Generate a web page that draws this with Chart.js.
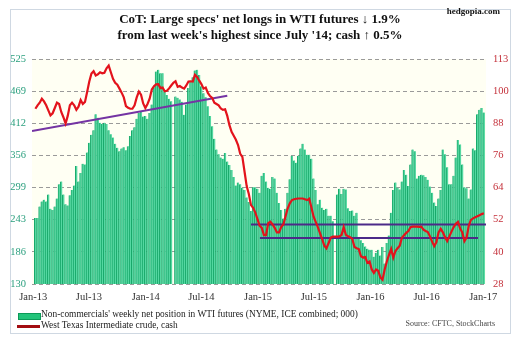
<!DOCTYPE html>
<html><head><meta charset="utf-8">
<script src="https://cdn.jsdelivr.net/npm/chart.js@4.4.1/dist/chart.umd.min.js"></script>
<style>
html,body{margin:0;padding:0;background:#fff;}
#wrap{position:relative;width:520px;height:342px;overflow:hidden;font-family:"Liberation Serif","DejaVu Serif",serif;}
#frame{position:absolute;left:10px;top:9px;width:499px;height:323px;border:1px solid #cfd8e2;}
canvas{position:absolute;left:0;top:0;}
.t{position:absolute;white-space:nowrap;color:#111;}
</style></head><body>
<div id="wrap">
<div id="frame"></div>
<canvas id="c" width="520" height="342"></canvas>
<div class="t" style="left:0;width:520px;top:11px;text-align:center;font-weight:bold;font-size:13px;line-height:16px;">CoT: Large specs' net longs in WTI futures ↓ 1.9%<br>from last week's highest since July '14; cash ↑ 0.5%</div>
<div class="t" style="right:20px;top:6px;font-weight:bold;font-size:9px;">hedgopia.com</div>
<div style="position:absolute;left:18px;top:313px;width:21px;height:5px;background:#22c47a;border:1px solid #0c9a58;"></div>
<div class="t" style="left:41px;top:309px;font-size:9.4px;color:#222;">Non-commercials' weekly net position in WTI futures (NYME, ICE combined; 000)</div>
<div style="position:absolute;left:17px;top:325px;width:23px;height:3px;background:#a30d12;"></div>
<div class="t" style="left:41px;top:320px;font-size:9.4px;color:#222;">West Texas Intermediate crude, cash</div>
<div class="t" style="right:25px;top:319px;font-size:8px;color:#444;">Source: CFTC, StockCharts</div>
</div>
<script>
// ---- data ----
const firstReport = Date.UTC(2013, 0, 8);   // first weekly CoT report (Tuesday)
const axisOrigin = Date.UTC(2013, 0, 1);
const tickLabels = ['Jan-13','Jul-13','Jan-14','Jul-14','Jan-15','Jul-15','Jan-16','Jul-16','Jan-17'];
const tickDates = ['2013-01-01','2013-07-01','2014-01-01','2014-07-01','2015-01-01','2015-07-01','2016-01-01','2016-07-01','2017-01-01'];
const leftTickLabels = [130,186,243,299,356,412,469,525];
const rightTickLabels = [28,40,52,64,76,88,100,113];

// non-commercials' net longs (000 contracts), weekly; null = missing week
const netLongs = [
 246,246,266,275,278,275,287,262,260,266,
 280,305,310,287,270,268,286,295,303,337,
 310,325,341,340,361,378,392,400,428,422,
 413,411,413,411,400,393,387,376,369,363,
 368,370,365,372,390,400,405,420,430,433,
 424,425,420,430,445,475,503,506,500,500,
 468,462,455,451,null,459,457,454,450,427,
 445,474,486,493,505,506,497,477,465,458,
 442,425,407,385,366,358,352,350,360,345,
 339,330,318,303,308,305,299,295,282,274,
 258,300,300,297,290,320,325,310,299,297,
 318,315,290,272,260,245,262,290,314,355,
 347,343,355,368,376,366,357,357,350,315,
 295,270,278,264,260,262,250,250,240,null,
 287,297,288,297,296,263,258,259,250,255,
 210,207,202,196,192,190,190,178,185,190,
 180,195,166,202,215,255,295,308,299,296,
 310,330,322,302,340,366,363,315,320,322,
 321,318,313,301,290,273,267,280,295,366,
 358,335,305,305,320,352,383,375,340,300,
 298,280,296,368,365,428,436,439,431];

// WTI cash price ($), weekly
const wtiCash = [
 94.2,95.5,96.5,98,97,95.5,93.6,91.7,92.5,94.5,
 96.5,96,93,91,88.6,91.5,95.5,96.5,95.5,93.8,
 95,97.5,96,96.8,100.5,104.5,107.5,108.4,106.8,107.2,
 108,107.6,107.8,109.5,110.5,108,105.5,104,103.3,101.8,
 100.3,98.5,95.2,94.6,94.2,94.2,95.5,98.5,100.7,99.5,
 96.2,94.5,96,98,101.5,102.7,103.4,103.5,102,102.2,
 100.8,101,101.9,103,104,104.6,102.5,102.8,102.2,101.8,
 103,104.5,104.6,104.5,107,106.2,104.8,103.5,101.8,102.2,
 100.2,99,98.3,96.5,96,95.5,94.3,93.8,94,91.5,
 88,85.5,84,82.5,80.5,77.2,76,70.5,65,62,
 57.8,56.8,55,52.5,50,49.2,46.5,46.5,51,51.5,
 50.5,49.2,47.5,47.5,49.5,50.5,53.5,56.5,58.5,59.7,
 60,60.2,60.3,60.3,60.3,60,59.7,60.2,57,53.5,
 51.5,49.5,47.2,45,42.5,41.5,43.5,45.5,45.9,45.9,
 45.9,46,46.5,49.5,46.6,46,45.7,45,42,41.5,
 41.2,38.5,38,38.2,36,36.5,33.5,32.2,33.5,33,
 30.5,29.6,33.5,36.5,39,41.2,38,40.5,41.5,42.5,
 45.5,46.4,47.3,48,49.5,49.7,49.7,49.7,49.6,49.7,
 48.5,48,47.6,46,44,42.3,43.8,47.5,48.8,47.5,
 45.7,44.2,46,47.8,49.5,50.8,51.5,49,47.5,44.2,
 45.5,50,52.2,52.8,53.2,53.6,54,54.4,54.7];

// trend lines on the price scale: [dayOffset, price]
const supportTrend = [[-4,85.8],[630,99.1]];
const upperLevel = [[707,50.5],[1470,50.5]];
const lowerLevel = [[736,45.4],[1444,45.4]];

// ---- build ----
const DAY = 86400000;
const dayOf = t => (t - axisOrigin) / DAY;
const weekX = i => dayOf(firstReport) + 7 * i;
const tickDays = tickDates.map(d => dayOf(Date.parse(d + 'T00:00:00Z')));
const barData = netLongs.map((v, i) => ({x: weekX(i), y: v}));
const lineData = wtiCash.map((v, i) => ({x: weekX(i), y: v}));
const pts = a => a.map(p => ({x: p[0], y: p[1]}));
const evenTicks = (labels) => {
  const mn = labels[0], mx = labels[labels.length - 1], n = labels.length;
  return labels.map((_, k) => ({value: mn + k * (mx - mn) / (n - 1)}));
};
const serif = "'Liberation Serif','DejaVu Serif',serif";

const bgPlugin = {
  id: 'plotbg',
  beforeDraw(chart) {
    const {ctx, chartArea: a} = chart;
    ctx.save();
    ctx.fillStyle = '#fffff3';
    ctx.fillRect(a.left, a.top, a.right - a.left, a.bottom - a.top);
    ctx.restore();
  }
};

new Chart(document.getElementById('c'), {
  type: 'bar',
  data: {
    datasets: [
      {type: 'line', data: lineData, yAxisID: 'y1', borderColor: '#e3131c', borderWidth: 2.2, pointRadius: 0, tension: 0, order: 0},
      {type: 'line', data: pts(supportTrend), yAxisID: 'y1', borderColor: '#7434a3', borderWidth: 2, pointRadius: 0, order: 1},
      {type: 'line', data: pts(upperLevel), yAxisID: 'y1', borderColor: '#4c2a88', borderWidth: 2, pointRadius: 0, order: 1},
      {type: 'line', data: pts(lowerLevel), yAxisID: 'y1', borderColor: '#4c2a88', borderWidth: 2, pointRadius: 0, order: 1},
      {type: 'bar', data: barData, yAxisID: 'y', backgroundColor: '#55d8a2', borderColor: '#18a86a',
       borderWidth: {left: 1, right: 0, top: 0, bottom: 0}, borderSkipped: false,
       barPercentage: 1, categoryPercentage: 1, order: 5}
    ]
  },
  options: {
    responsive: false, animation: false, devicePixelRatio: 1,
    layout: {padding: {left: 10, right: 10, top: 59, bottom: 38}},
    plugins: {legend: {display: false}, tooltip: {enabled: false}},
    scales: {
      x: {
        type: 'linear', min: -4, max: 1470, offset: false,
        grid: {display: false, drawTicks: false}, border: {display: false},
        afterBuildTicks: s => { s.ticks = tickDays.map(v => ({value: v})); },
        afterFit: s => { s.height = 20; },
        ticks: {callback: (v, i) => tickLabels[i], autoSkip: false, maxRotation: 0, padding: 7,
                color: '#333', font: {family: serif, size: 10.5}}
      },
      y: {
        position: 'left', min: leftTickLabels[0], max: leftTickLabels[leftTickLabels.length - 1],
        grid: {color: '#9a9a9a', lineWidth: 1, drawTicks: false},
        border: {display: false, dash: [4, 3]},
        afterBuildTicks: s => { s.ticks = evenTicks(leftTickLabels); },
        afterFit: s => { s.width = 22; },
        ticks: {callback: (v, i) => leftTickLabels[i], padding: 6, color: '#2a9f7e', font: {family: serif, size: 10.5}}
      },
      y1: {
        position: 'right', min: rightTickLabels[0], max: rightTickLabels[rightTickLabels.length - 1],
        grid: {display: false, drawTicks: false}, border: {display: false},
        afterBuildTicks: s => { s.ticks = evenTicks(rightTickLabels); },
        afterFit: s => { s.width = 24; },
        ticks: {callback: (v, i) => rightTickLabels[i], padding: 7, color: '#c4303a', font: {family: serif, size: 10.5}}
      }
    }
  },
  plugins: [bgPlugin]
});
</script>
</body></html>
